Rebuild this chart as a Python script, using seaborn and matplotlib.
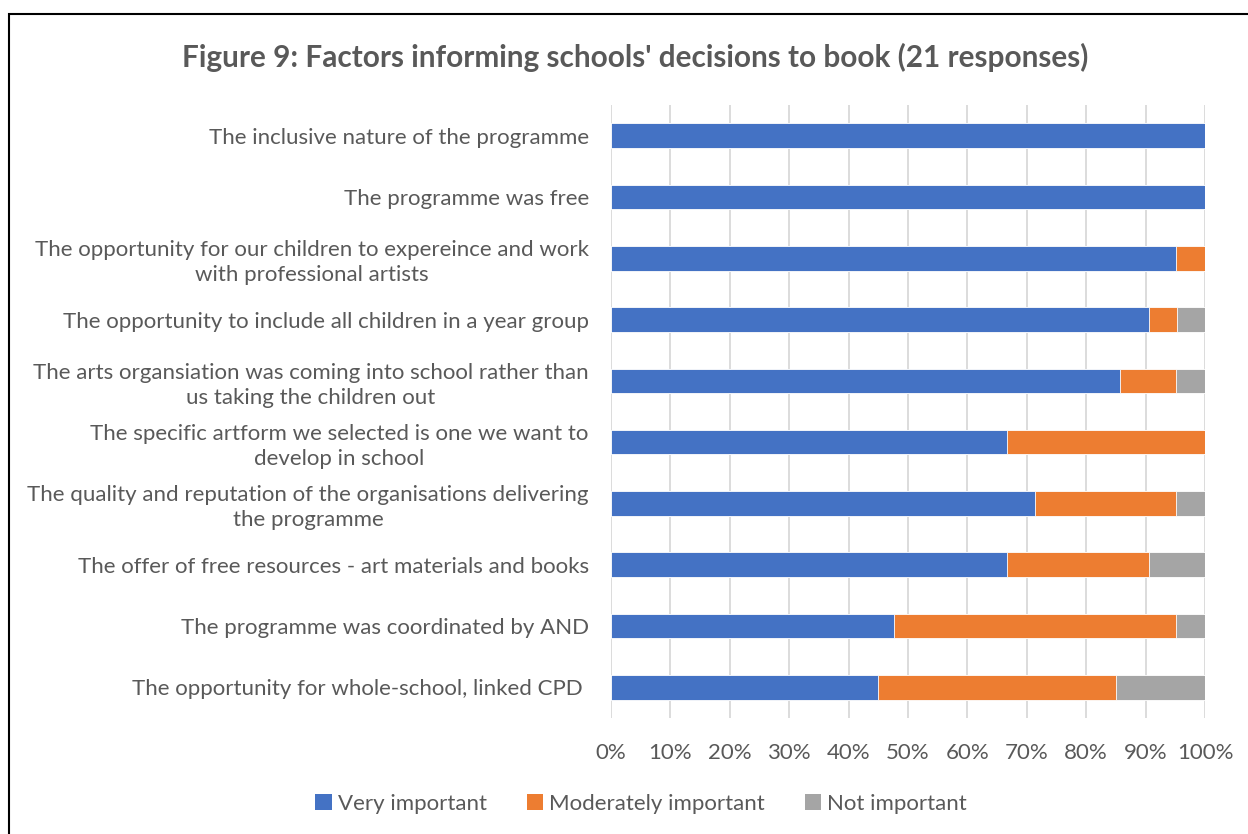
import matplotlib
matplotlib.use("Agg")
import matplotlib.pyplot as plt
import seaborn as sns
import pandas as pd
import numpy as np
from matplotlib.patches import Rectangle, Patch
from matplotlib.ticker import PercentFormatter, MultipleLocator

categories = [
    "The inclusive nature of the programme",
    "The programme was free",
    "The opportunity for our children to expereince and work\nwith professional artists",
    "The opportunity to include all children in a year group",
    "The arts organsiation was coming into school rather than\nus taking the children out",
    "The specific artform we selected is one we want to\ndevelop in school",
    "The quality and reputation of the organisations delivering\nthe programme",
    "The offer of free resources - art materials and books",
    "The programme was coordinated by AND",
    "The opportunity for whole-school, linked CPD ",
]
very_important = [100.0, 100.0, 95.2, 90.5, 85.7, 66.7, 71.4, 66.7, 47.6, 45.0]
moderately_important = [0.0, 0.0, 4.8, 4.8, 9.5, 33.3, 23.8, 23.8, 47.6, 40.0]
not_important = [0.0, 0.0, 0.0, 4.8, 4.8, 0.0, 4.8, 9.5, 4.8, 15.0]
series_names = ["Very important", "Moderately important", "Not important"]
colors = ["#4472C4", "#ED7D31", "#A5A5A5"]
title = "Figure 9: Factors informing schools' decisions to book (21 responses)"

sns.set_theme(style="white")
plt.rcParams["font.family"] = ["Lato", "DejaVu Sans"]
txt = "#595959"

df = pd.DataFrame({
    "cat": categories,
    "v": very_important,
    "m": moderately_important,
    "n": not_important,
})
df["c1"] = df["v"]
df["c2"] = df["v"] + df["m"]
df["c3"] = df["v"] + df["m"] + df["n"]

fig = plt.figure(figsize=(12.48, 8.34), dpi=100)
ax = fig.add_axes([611/1248, 1-718/834, (1205-611)/1248, (718-105)/834])

for col, c in zip(["c3", "c2", "c1"], colors[::-1]):
    sns.barplot(data=df, x=col, y="cat", order=categories, color=c, orient="h",
                width=0.4, ax=ax, edgecolor="white", linewidth=0.6, saturation=1)

ax.set_xlim(0, 100)
ax.set_ylim(len(categories) - 0.5, -0.5)
ax.xaxis.set_major_locator(MultipleLocator(10))
ax.xaxis.set_major_formatter(PercentFormatter(decimals=0))
ax.set_xlabel("")
ax.set_ylabel("")
ax.grid(axis="x", color="#D9D9D9", linewidth=1.3)
ax.set_axisbelow(True)
for s in ax.spines.values():
    s.set_visible(False)
ax.tick_params(axis="x", length=0, pad=18, labelsize=16, labelcolor=txt)
ax.tick_params(axis="y", length=0, pad=16, labelsize=16, labelcolor=txt)
for lab in ax.get_yticklabels():
    lab.set_multialignment("center")
    lab.set_linespacing(1.3)

fig.text(635/1248, 1-57/834, title, ha="center", va="center", fontsize=21.4,
         fontweight="bold", color=txt)

handles = [Patch(facecolor=c, edgecolor="none") for c in colors]
fig.legend(handles, series_names, loc="center", bbox_to_anchor=(641/1248, 1-804/834),
           ncol=3, frameon=False, fontsize=16, labelcolor=txt, handlelength=0.75,
           handleheight=0.75, handletextpad=0.25, columnspacing=1.8)

fig.patches.append(Rectangle((9/1248, -0.1), 1.2, 1 - 14/834 + 0.1, transform=fig.transFigure,
                             fill=False, edgecolor="black", linewidth=1.5, zorder=10))

fig.savefig("out.png", dpi=100)
